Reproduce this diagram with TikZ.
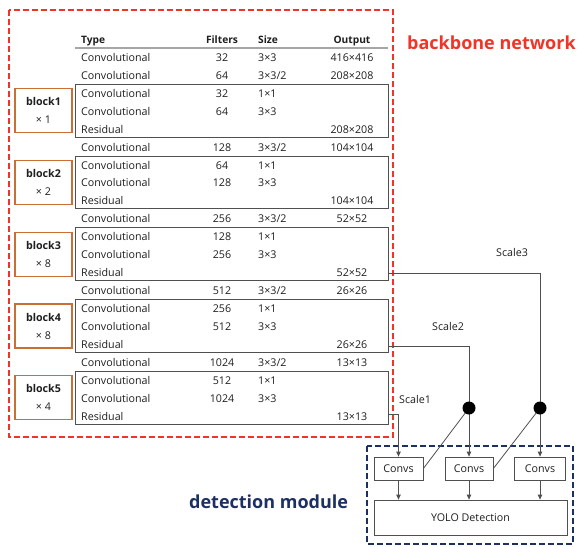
\documentclass[tikz,border=0pt]{standalone}
\usepackage{fontspec}
\setmainfont{Open Sans}
\usetikzlibrary{arrows.meta}
\definecolor{redbb}{RGB}{240,52,40}
\definecolor{navy}{RGB}{28,48,98}
\definecolor{orangeb}{RGB}{200,112,52}
\definecolor{txt}{RGB}{30,30,30}
\definecolor{ln}{RGB}{80,80,80}
\begin{document}
\begin{tikzpicture}[x=1pt,y=-1pt,
  every node/.style={font=\fontsize{10.7}{12}\selectfont, text=txt, inner sep=0pt},
  cell/.style={anchor=base west},
  cellc/.style={anchor=base},
  hdr/.style={font=\fontsize{10.2}{12}\selectfont\bfseries},
  frame/.style={draw=ln, line width=0.9pt, minimum width=313pt, minimum height=52.9pt},
  blk/.style={draw=orangeb, line width=1.2pt, minimum width=57pt, minimum height=44pt, align=center, font=\fontsize{10.7}{18}\selectfont},
  box/.style={draw=ln, line width=0.8pt, inner sep=0pt},
  dot/.style={circle, fill=black, minimum size=13pt, inner sep=0pt},
  conn/.style={draw=ln, line width=0.8pt},
  arr/.style={conn, -{Triangle[length=5pt,width=4.5pt]}},
  title/.style={font=\fontsize{18}{20}\selectfont\bfseries, anchor=base west}
]
\useasboundingbox (0,0) rectangle (578,546);

% header
\node[cell,hdr] (hType) at (81,43) {Type};
\node[cellc,hdr] (hFilt) at (222,43) {Filters};
\node[cell,hdr] (hSize) at (258,43) {Size};
\node[cellc,hdr] (hOut) at (352,43) {Output};
\coordinate (hl1) at (75,48);
\coordinate (hl2) at (388,48);
\draw[gray!70, line width=1.8pt] (hl1) -- (hl2);

% rows
\foreach \i/\rt/\rf/\rs/\ro in {
 0/Convolutional/32/3×3/416×416,
 1/Convolutional/64/3×3\slash 2/208×208,
 2/Convolutional/32/1×1/{},
 3/Convolutional/64/3×3/{},
 4/Residual/{}/{}/208×208,
 5/Convolutional/128/3×3\slash 2/104×104,
 6/Convolutional/64/1×1/{},
 7/Convolutional/128/3×3/{},
 8/Residual/{}/{}/104×104,
 9/Convolutional/256/3×3\slash 2/52×52,
 10/Convolutional/128/1×1/{},
 11/Convolutional/256/3×3/{},
 12/Residual/{}/{}/52×52,
 13/Convolutional/512/3×3\slash 2/26×26,
 14/Convolutional/256/1×1/{},
 15/Convolutional/512/3×3/{},
 16/Residual/{}/{}/26×26,
 17/Convolutional/1024/3×3\slash 2/13×13,
 18/Convolutional/512/1×1/{},
 19/Convolutional/1024/3×3/{},
 20/Residual/{}/{}/13×13}{
  \pgfmathsetmacro\yy{57.3+17.95*\i+4}
  \node[cell] (ty\i) at (81,\yy) {\rt};
  \node[cellc] (fi\i) at (222,\yy) {\rf};
  \node[cell] (sz\i) at (258,\yy) {\rs};
  \node[cellc] (ou\i) at (352,\yy) {\ro};
}

% block frames and labels
\foreach \k/\m in {1/1,2/2,3/8,4/8,5/4}{
  \pgfmathsetmacro\yc{57.3+17.95*(4*\k-2)+17.45}
  \node[frame] (fr\k) at (231.5,\yc) {};
  \node[blk] (bl\k) at (43.5,\yc) {\textbf{block\k}\\× \m};
}

% backbone box
\draw[redbb, line width=1.8pt, dash pattern=on 6pt off 3pt] (9,10) rectangle (393,437);
\node[title, text=redbb] (bbt) at (407,49) {backbone network};

% detection module
\draw[navy, line width=1.8pt, dash pattern=on 6pt off 3pt] (367,446) rectangle (573,544);
\node[title, text=navy] (dmt) at (189,508) {detection module};

\node[box, minimum width=49pt, minimum height=23pt] (c1) at (398.5,468.5) {Convs};
\node[box, minimum width=48pt, minimum height=23pt] (c2) at (469,468.5) {Convs};
\node[box, minimum width=51pt, minimum height=23pt] (c3) at (540,468.5) {Convs};
\node[box, minimum width=193pt, minimum height=35pt] (yolo) at (470.5,517.5) {YOLO Detection};

\coordinate (d2) at (469,408);
\coordinate (d3) at (540,408);

\coordinate (s1) at (388,414);
\coordinate (s2) at (388,346);
\coordinate (s3) at (388,273);

\draw[arr] (s1) -| (c1.north);
\draw[conn] (s2) -| (d2);
\draw[conn] (s3) -| (d3);
\draw[arr] (d2) -- (c2.north);
\draw[arr] (d3) -- (c3.north);
\draw[conn] (d2) -- (c1.east);
\draw[conn] (d3) -- (c2.east);
\draw[arr] (c1.south) -- (c1.south |- yolo.north);
\draw[arr] (c2.south) -- (c2.south |- yolo.north);
\draw[arr] (c3.south) -- (c3.south |- yolo.north);

\node[dot] (dot2) at (d2) {};
\node[dot] (dot3) at (d3) {};

\node[anchor=west] (sc1) at (399,399) {Scale1};
\node[anchor=west] (sc2) at (432,326) {Scale2};
\node[anchor=west] (sc3) at (496,252) {Scale3};
\end{tikzpicture}
\end{document}
